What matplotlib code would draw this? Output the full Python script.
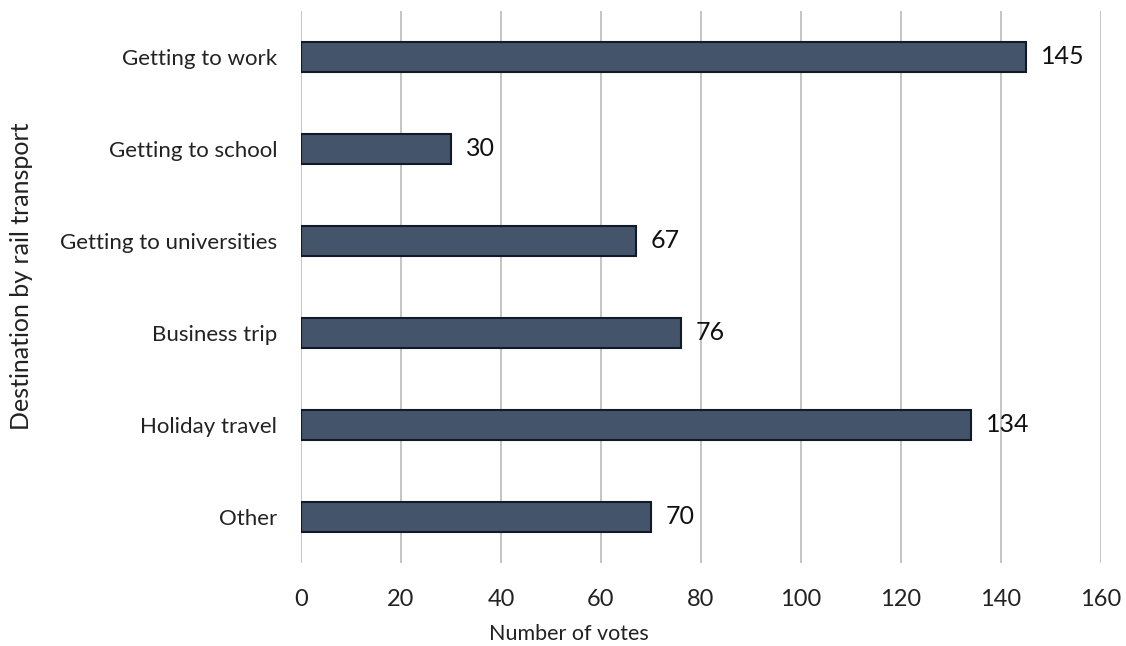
import matplotlib.pyplot as plt

# data (top to bottom as in the chart)
categories = ["Getting to work", "Getting to school", "Getting to universities",
              "Business trip", "Holiday travel", "Other"]
votes = [145, 30, 67, 76, 134, 70]
xticks = [0, 20, 40, 60, 80, 100, 120, 140, 160]

plt.rcParams['font.family'] = ['Lato', 'DejaVu Sans']

fig = plt.figure(figsize=(11.26, 6.46), dpi=100)
ax = fig.add_axes([0.2673, 0.1285, 0.7105, 0.8545])

ypos = list(range(len(categories)))
bars = ax.barh(ypos, votes, height=0.335, color='#44546A',
               edgecolor='#111a26', linewidth=1.5, zorder=3)

for y, v in zip(ypos, votes):
    ax.text(v + 3, y, str(v), va='center', ha='left', fontsize=18, color='#111111')

ax.set_yticks(ypos)
ax.set_yticklabels(categories, fontsize=16, color='#222222')
ax.set_ylim(len(categories) - 0.5, -0.5)
ax.set_xlim(0, 160)
ax.set_xticks(xticks)
ax.set_xticklabels([str(t) for t in xticks], fontsize=17, color='#222222')

ax.grid(axis='x', color='#bfbfbf', linewidth=1.3, zorder=0)
for s in ax.spines.values():
    s.set_visible(False)
ax.tick_params(length=0)
ax.tick_params(axis='y', pad=17)
ax.tick_params(axis='x', pad=19)

ax.set_xlabel("Number of votes", fontsize=15.5, color='#222222', va='center')
ax.xaxis.set_label_coords(0.335, -0.129)
ax.set_ylabel("Destination by rail transport", fontsize=18, color='#222222', va='center')
ax.yaxis.set_label_coords(-0.349, 0.52)

fig.savefig("out.png", dpi=100)
